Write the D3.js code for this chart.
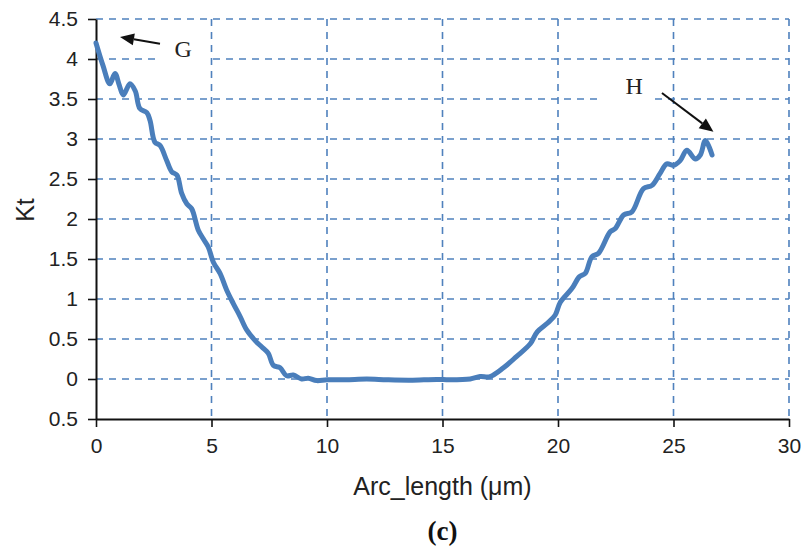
<!DOCTYPE html>
<html>
<head>
<meta charset="utf-8">
<script src="https://cdn.jsdelivr.net/npm/d3@7"></script>
<style>
  html, body { margin: 0; padding: 0; background: #fff; }
  svg { display: block; }
</style>
</head>
<body>
<svg id="chart" width="804" height="548"></svg>
<script>
// Stress concentration factor along the notch arc
const arcLength = [0.0, 0.3, 0.6, 0.82, 1.0, 1.18, 1.47, 1.7, 1.9, 2.2, 2.34, 2.55, 2.77, 3.06, 3.28, 3.5,
  3.71, 3.93, 4.14, 4.43, 4.65, 4.86, 5.08, 5.37, 5.66, 5.95, 6.24, 6.53, 6.89, 7.18, 7.46, 7.68,
  7.97, 8.25, 8.54, 8.9, 9.19, 9.55, 10.0, 10.8, 11.72, 12.6, 13.6, 14.75, 15.3, 16.2, 16.63, 17.06,
  17.64, 18.2, 18.8, 19.1, 19.55, 19.88, 20.1, 20.6, 20.93, 21.18, 21.47, 21.75, 22.26, 22.48,
  22.84, 23.2, 23.7, 24.07, 24.42, 24.71, 25.0, 25.29, 25.58, 25.94, 26.16, 26.38, 26.67];
const kt = [4.2, 3.92, 3.69, 3.82, 3.68, 3.55, 3.69, 3.6, 3.38, 3.33, 3.23, 2.96, 2.92, 2.73, 2.59, 2.55,
  2.32, 2.19, 2.13, 1.86, 1.75, 1.65, 1.46, 1.32, 1.11, 0.94, 0.78, 0.61, 0.48, 0.40, 0.32, 0.17,
  0.14, 0.04, 0.05, 0.0, 0.01, -0.02, -0.01, -0.01, 0.0, -0.01, -0.015, -0.005, -0.01, 0.0, 0.03, 0.03,
  0.14, 0.28, 0.44, 0.59, 0.70, 0.80, 0.96, 1.13, 1.28, 1.32, 1.53, 1.57, 1.84, 1.88,
  2.05, 2.09, 2.38, 2.42, 2.57, 2.69, 2.67, 2.73, 2.86, 2.75, 2.80, 2.98, 2.80];

const xTicks = [0, 5, 10, 15, 20, 25, 30];
const yTicks = [-0.5, 0, 0.5, 1, 1.5, 2, 2.5, 3, 3.5, 4, 4.5];
const yTickLabels = ["0.5", "0", "0.5", "1", "1.5", "2", "2.5", "3", "3.5", "4", "4.5"];

// Annotations: label position and arrow (tail -> head) in data units
const notes = [
  { text: "G", at: [3.77, 4.03], box: [2.77, 4.93, 3.95, 4.42], tail: [2.77, 4.19], head: [1.04, 4.275] },
  { text: "H", at: [23.3, 3.56], box: [21.9, 24.2, 3.46, 3.83], tail: [24.5, 3.575], head: [26.73, 3.09] }
];

const svg = d3.select("#chart");
const x = d3.scaleLinear().domain([0, 30]).range([96, 789]);
const y = d3.scaleLinear().domain([-0.5, 4.5]).range([419, 19]);
const blue = "#4f81bd";
const sans = "'Liberation Sans', Arial, Helvetica, sans-serif";
const serif = "'Liberation Serif', 'Times New Roman', serif";

// dashed grid
const grid = svg.append("g").attr("stroke", blue).attr("stroke-width", 1.6)
  .attr("stroke-dasharray", "7,6").attr("fill", "none");
grid.selectAll("line.h").data(yTicks.filter(d => d >= 0)).join("line")
  .attr("class", "h")
  .attr("x1", x(0)).attr("x2", x(30))
  .attr("y1", d => y(d)).attr("y2", d => y(d));
grid.selectAll("line.v").data(xTicks.filter(d => d > 0)).join("line")
  .attr("class", "v")
  .attr("x1", d => x(d)).attr("x2", d => x(d))
  .attr("y1", y(4.5)).attr("y2", y(-0.5));

// white label backgrounds
svg.append("g").selectAll("rect").data(notes).join("rect")
  .attr("x", d => x(d.box[0])).attr("width", d => x(d.box[1]) - x(d.box[0]))
  .attr("y", d => y(d.box[3])).attr("height", d => y(d.box[2]) - y(d.box[3]))
  .attr("fill", "#fff");

// axes
const xAxis = d3.axisBottom(x).tickValues(xTicks).tickSize(8).tickSizeOuter(0).tickPadding(11);
const yAxis = d3.axisLeft(y).tickValues(yTicks).tickSize(8).tickSizeOuter(0).tickPadding(10)
  .tickFormat((d, i) => yTickLabels[i]);

const gx = svg.append("g").attr("transform", `translate(0,${y(-0.5)})`).call(xAxis);
const gy = svg.append("g").attr("transform", `translate(${x(0)},0)`).call(yAxis);
[gx, gy].forEach(g => {
  g.select(".domain").attr("stroke", "#111").attr("stroke-width", 2);
  g.selectAll(".tick line").attr("stroke", "#111").attr("stroke-width", 1.6);
  g.selectAll(".tick text").attr("fill", "#222").style("font-family", sans).style("font-size", "21px");
});

// curve
const line = d3.line().x(d => x(d[0])).y(d => y(d[1])).curve(d3.curveCatmullRom.alpha(0.5));
svg.append("path")
  .datum(d3.zip(arcLength, kt))
  .attr("d", line)
  .attr("fill", "none")
  .attr("stroke", "#4a7ebb")
  .attr("stroke-width", 5)
  .attr("stroke-linejoin", "round")
  .attr("stroke-linecap", "round");

// annotation arrows and labels
const ann = svg.append("g");
notes.forEach(n => {
  const x1 = x(n.tail[0]), y1 = y(n.tail[1]), x2 = x(n.head[0]), y2 = y(n.head[1]);
  const ang = Math.atan2(y2 - y1, x2 - x1);
  const len = 14, half = 6;
  const bx = x2 - len * Math.cos(ang), by = y2 - len * Math.sin(ang);
  ann.append("line").attr("x1", x1).attr("y1", y1).attr("x2", bx).attr("y2", by)
    .attr("stroke", "#111").attr("stroke-width", 2);
  const pts = [
    [x2, y2],
    [bx + half * Math.sin(ang), by - half * Math.cos(ang)],
    [bx - half * Math.sin(ang), by + half * Math.cos(ang)]
  ];
  ann.append("polygon").attr("points", pts.map(p => p.join(",")).join(" ")).attr("fill", "#111");
  ann.append("text").attr("x", x(n.at[0])).attr("y", y(n.at[1]))
    .attr("text-anchor", "middle").attr("fill", "#222")
    .style("font-family", serif).style("font-size", "24px").text(n.text);
});

// axis titles
svg.append("text").attr("x", (x(0) + x(30)) / 2).attr("y", 495)
  .attr("text-anchor", "middle").attr("fill", "#222")
  .style("font-family", sans).style("font-size", "25px").text("Arc_length (\u03bcm)");
svg.append("text").attr("transform", "translate(34,210) rotate(-90)")
  .attr("text-anchor", "middle").attr("fill", "#222")
  .style("font-family", sans).style("font-size", "25px").text("Kt");
svg.append("text").attr("x", (x(0) + x(30)) / 2).attr("y", 540)
  .attr("text-anchor", "middle").attr("fill", "#111")
  .style("font-family", serif).style("font-weight", "bold").style("font-size", "27px").text("(c)");
</script>
</body>
</html>
